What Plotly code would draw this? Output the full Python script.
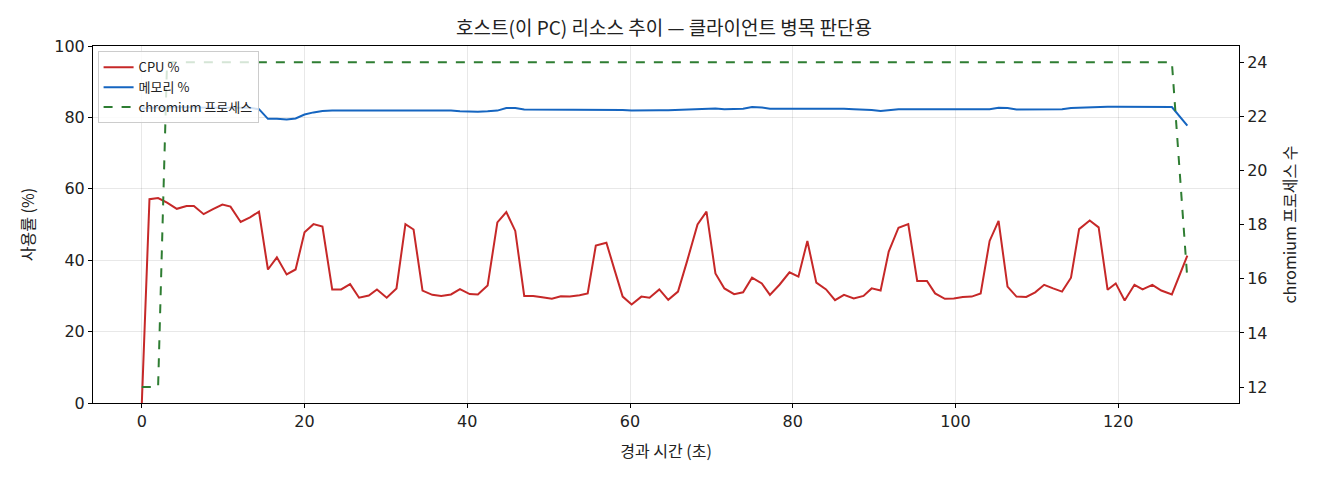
import plotly.graph_objects as go

# elapsed seconds for each sample
elapsed = [0, 0.94, 2.0, 3.1, 4.3, 5.5, 6.4, 7.6, 8.75, 9.9, 10.9, 12.15, 13.3, 14.4,
           15.5, 16.6, 17.8, 18.9, 20.0, 21.1, 22.2, 23.4, 24.5, 25.6, 26.7, 27.9, 28.9,
           30.1, 31.3, 32.4, 33.4, 34.5, 35.7, 36.8, 38.0, 39.1, 40.3, 41.3, 42.5, 43.7,
           44.8, 45.9, 47.0, 48.1, 49.2, 50.4, 51.5, 52.6, 53.8, 54.8, 55.8, 57.1, 58.1,
           59.1, 60.2, 61.4, 62.4, 63.6, 64.7, 65.9, 67.0, 68.3, 69.4, 70.5, 71.6, 72.8,
           73.9, 75.0, 76.2, 77.2, 78.4, 79.6, 80.7, 81.8, 82.9, 84.1, 85.2, 86.3, 87.5,
           88.7, 89.7, 90.8, 91.8, 93.0, 94.2, 95.3, 96.5, 97.5, 98.7, 99.8, 100.9, 102.0,
           103.1, 104.2, 105.3, 106.4, 107.5, 108.7, 109.8, 110.9, 112.0, 113.1, 114.2,
           115.2, 116.5, 117.6, 118.7, 119.7, 120.8, 122.0, 123.0, 124.2, 125.3, 126.6, 128.5]

cpu = [0, 57.1, 57.4, 56.1, 54.4, 55.2, 55.2, 52.9, 54.3, 55.6, 55.0, 50.7, 52.0, 53.6,
       37.4, 40.8, 36.0, 37.4, 47.8, 50.1, 49.4, 31.8, 31.8, 33.3, 29.5, 30.1, 31.8,
       29.5, 32.1, 50.1, 48.6, 31.5, 30.3, 30.0, 30.4, 31.9, 30.5, 30.4, 32.9, 50.6,
       53.5, 48.2, 30.0, 30.0, 29.6, 29.2, 29.9, 29.8, 30.2, 30.7, 44.1, 44.9, 37.3,
       29.8, 27.6, 29.8, 29.5, 31.8, 28.9, 31.2, 39.6, 50.0, 53.6, 36.3, 32.1, 30.5,
       31.0, 35.1, 33.5, 30.3, 33.2, 36.6, 35.4, 45.4, 33.7, 31.8, 28.8, 30.3, 29.3,
       30.0, 32.1, 31.5, 42.4, 49.1, 50.1, 34.2, 34.2, 30.7, 29.2, 29.3, 29.7, 29.8,
       30.7, 45.4, 51.0, 32.6, 29.8, 29.7, 31.0, 33.1, 32.1, 31.2, 35.1, 48.7, 51.1,
       49.2, 31.7, 33.5, 28.7, 33.1, 31.8, 33.1, 31.5, 30.4, 41.3]

memory = [82.5, 82.7, 82.8, 82.8, 82.9, 82.9, 82.8, 82.8, 82.9, 82.9, 82.8, 82.7, 82.7, 82.3,
          79.6, 79.6, 79.4, 79.7, 80.8, 81.4, 81.8, 81.9, 81.9, 82.0, 82.0, 82.0, 82.0,
          82.0, 81.9, 82.1, 82.0, 82.0, 82.0, 82.0, 81.9, 81.7, 81.6, 81.6, 81.7, 81.9,
          82.6, 82.6, 82.2, 82.2, 82.3, 82.2, 82.3, 82.3, 82.3, 82.2, 82.1, 82.1, 82.1,
          82.1, 81.9, 82.0, 81.9, 82.0, 82.0, 82.1, 82.2, 82.3, 82.5, 82.5, 82.3, 82.4,
          82.4, 82.9, 82.8, 82.4, 82.4, 82.6, 82.6, 82.5, 82.4, 82.4, 82.4, 82.4, 82.3,
          82.3, 82.1, 81.8, 82.1, 82.3, 82.3, 82.3, 82.3, 82.3, 82.4, 82.3, 82.3, 82.3,
          82.3, 82.3, 82.7, 82.6, 82.2, 82.2, 82.3, 82.4, 82.3, 82.3, 82.6, 82.7, 82.9,
          83.0, 83.0, 83.0, 83.0, 82.8, 82.9, 82.8, 82.9, 82.9, 77.7]

chromium = [12, 12, 12] + [24] * 111 + [16]

FONT = "Noto Sans CJK KR, Noto Sans, DejaVu Sans, sans-serif"
TICK_FONT = "DejaVu Sans, Noto Sans CJK KR, sans-serif"

fig = go.Figure()
fig.add_trace(go.Scatter(x=elapsed, y=cpu, name="CPU %", mode="lines",
                         line=dict(color="#c62828", width=2)))
fig.add_trace(go.Scatter(x=elapsed, y=memory, name="메모리 %", mode="lines",
                         line=dict(color="#1565c0", width=2)))
fig.add_trace(go.Scatter(x=elapsed, y=chromium, name="chromium 프로세스", mode="lines",
                         line=dict(color="#2e7d32", width=2, dash="dash"), yaxis="y2"))

axis_common = dict(showline=True, linecolor="black", linewidth=1, ticks="outside",
                   ticklen=4, tickcolor="black", zeroline=False, automargin=False,
                   tickfont=dict(family=TICK_FONT, size=16, color="#222"))

# page body has an 8px margin, so the figure is drawn 8px smaller
fig.update_layout(
    width=1312, height=472,
    margin=dict(l=85, r=81, t=38, b=77),
    paper_bgcolor="white", plot_bgcolor="white",
    font=dict(family=FONT, color="#222"),
    title=dict(text="호스트(이 PC) 리소스 추이 — 클라이언트 병목 판단용",
               x=0.5, xanchor="center", y=1 - 20 / 472, yanchor="middle",
               font=dict(size=19)),
    xaxis=dict(range=[-6.0, 134.85], tickvals=[0, 20, 40, 60, 80, 100, 120],
               mirror=True, showgrid=True, gridcolor="rgba(0,0,0,0.09)",
               title=dict(text="경과 시간 (초)", font=dict(size=16), standoff=15),
               **axis_common),
    yaxis=dict(range=[0, 100], tickvals=[0, 20, 40, 60, 80, 100], mirror=True,
               showgrid=True, gridcolor="rgba(0,0,0,0.09)",
               title=dict(text="사용률 (%)", font=dict(size=16), standoff=15),
               **axis_common),
    yaxis2=dict(range=[11.41, 24.6], tickvals=[12, 14, 16, 18, 20, 22, 24],
                overlaying="y", side="right", showgrid=False,
                title=dict(text="chromium 프로세스 수", font=dict(size=16), standoff=18),
                **axis_common),
    legend=dict(x=0.004, y=0.985, xanchor="left", yanchor="top",
                bgcolor="rgba(255,255,255,0.8)", bordercolor="#cccccc", borderwidth=1,
                font=dict(size=13), tracegroupgap=3),
    showlegend=True,
)

fig.write_html("out.html")
